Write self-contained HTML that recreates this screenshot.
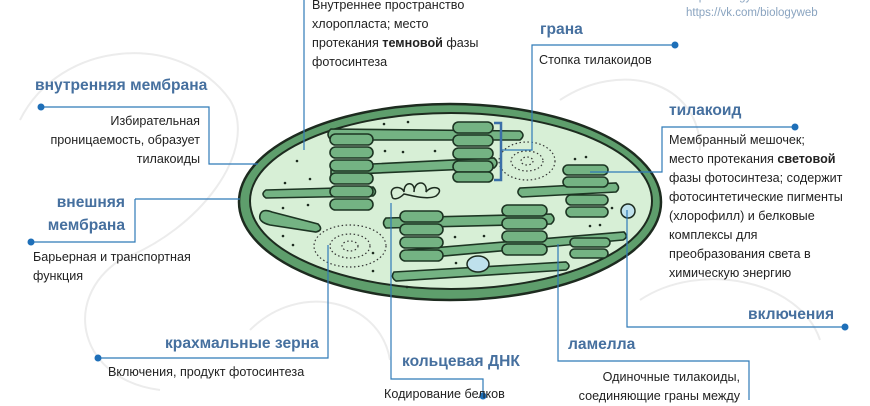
<!DOCTYPE html>
<html><head><meta charset="utf-8"><style>
body{margin:0;width:870px;height:400px;overflow:hidden;background:#fff;font-family:"Liberation Sans","DejaVu Sans",sans-serif}
svg{position:absolute;left:0;top:0}
.t{position:absolute;font-size:12.6px;color:#222;line-height:19px;white-space:nowrap}
.h{position:absolute;font-size:15.6px;font-weight:bold;color:#46709f;white-space:nowrap}
.r{text-align:right}
</style></head><body>
<svg width="870" height="400" viewBox="0 0 870 400">
<g fill="none" stroke="#ececec" stroke-width="2">
<path d="M20 120 C60 40 180 30 230 100 C260 150 200 230 120 260"/>
<path d="M120 260 C60 300 80 380 160 390"/>
<path d="M250 330 C300 280 380 300 390 360"/>
<path d="M560 100 C620 60 700 80 700 150"/>
<path d="M640 300 C700 260 800 280 820 340"/>
</g>
<ellipse cx="450" cy="202" rx="211" ry="98" fill="#5e9e6c" stroke="#1d2b1f" stroke-width="2.5"/>
<ellipse cx="451" cy="201" rx="201" ry="88" fill="#d7efd6" stroke="#1d2b1f" stroke-width="2"/>
<g fill="#74b383" stroke="#1d3523" stroke-width="1.6">
<path d="M331 129 L520 131 Q526 135 520 140 L331 140 Q325 134 331 129Z"/>
<path d="M331 166 L494 158 Q500 163 494 168 L331 175Z"/>
<path d="M266 190 L373 187 Q378 192 373 196 L266 198 Q260 194 266 190Z"/>
<path d="M260 215 Q262 208 272 212 L318 224 Q324 230 316 232 L270 225 Q258 222 260 215Z"/>
<path d="M386 218 L551 214 Q557 219 551 224 L386 228 Q381 223 386 218Z"/>
<path d="M408 250 L624 232 Q629 237 623 240 L410 259 Q403 254 408 250Z"/>
<path d="M520 188 L616 183 Q621 188 616 192 L522 197 Q515 193 520 188Z"/>
<path d="M394 272 L566 262 Q572 266 566 270 L396 281 Q390 277 394 272Z"/>
<rect x="330" y="134" width="43" height="11" rx="5.5"/>
<rect x="330" y="147" width="43" height="11" rx="5.5"/>
<rect x="330" y="160" width="43" height="11" rx="5.5"/>
<rect x="330" y="173" width="43" height="11" rx="5.5"/>
<rect x="330" y="186" width="43" height="11" rx="5.5"/>
<rect x="330" y="199" width="43" height="11" rx="5.5"/>
<rect x="453" y="122" width="40" height="11" rx="5.5"/>
<rect x="453" y="135" width="40" height="11" rx="5.5"/>
<rect x="453" y="148" width="40" height="11" rx="5.5"/>
<rect x="453" y="161" width="40" height="11" rx="5.5"/>
<rect x="453" y="172" width="40" height="10" rx="5"/>
<rect x="400" y="211" width="43" height="11" rx="5.5"/>
<rect x="400" y="224" width="43" height="11" rx="5.5"/>
<rect x="400" y="237" width="43" height="11" rx="5.5"/>
<rect x="400" y="250" width="43" height="11" rx="5.5"/>
<rect x="502" y="205" width="45" height="11" rx="5.5"/>
<rect x="502" y="218" width="45" height="11" rx="5.5"/>
<rect x="502" y="231" width="45" height="11" rx="5.5"/>
<rect x="502" y="244" width="45" height="11" rx="5.5"/>
<rect x="563" y="165" width="45" height="10" rx="5"/>
<rect x="563" y="177" width="45" height="10" rx="5"/>
<rect x="566" y="195" width="42" height="10" rx="5"/>
<rect x="566" y="207" width="42" height="10" rx="5"/>
<rect x="570" y="238" width="40" height="9" rx="4.5"/>
<rect x="570" y="249" width="38" height="9" rx="4.5"/>
</g>
<g fill="none" stroke="#1d2b1f" stroke-width="1.5">
<path d="M392 196 C388 186 402 185 404 192 C404 180 416 182 414 192 C414 180 428 180 426 192 C432 184 446 188 436 196 C428 200 414 196 404 194 C398 200 392 200 392 196Z"/>
</g>
<g fill="none" stroke="#333" stroke-width="1.2" stroke-dasharray="1.5 2.5">
<ellipse cx="350" cy="246" rx="36" ry="21"/><ellipse cx="350" cy="246" rx="20" ry="12"/><ellipse cx="350" cy="246" rx="8" ry="5"/>
<ellipse cx="527" cy="161" rx="28" ry="19"/><ellipse cx="527" cy="161" rx="16" ry="10"/><ellipse cx="527" cy="161" rx="6" ry="4"/>
</g>
<circle cx="628" cy="211" r="7" fill="#bfe1ec" stroke="#1d2b1f" stroke-width="1.5"/>
<ellipse cx="478" cy="264" rx="11" ry="8" fill="#bfe1ec" stroke="#1d2b1f" stroke-width="1.5"/>
<g fill="#1d2b1f">
<circle cx="384" cy="124" r="1.3"/><circle cx="408" cy="122" r="1.3"/><circle cx="297" cy="161" r="1.3"/><circle cx="285" cy="183" r="1.3"/><circle cx="310" cy="179" r="1.3"/><circle cx="283" cy="208" r="1.3"/><circle cx="308" cy="205" r="1.3"/><circle cx="283" cy="236" r="1.3"/><circle cx="293" cy="245" r="1.3"/><circle cx="385" cy="151" r="1.3"/><circle cx="403" cy="152" r="1.3"/><circle cx="435" cy="151" r="1.3"/><circle cx="586" cy="157" r="1.3"/><circle cx="575" cy="159" r="1.3"/><circle cx="612" cy="208" r="1.3"/><circle cx="455" cy="237" r="1.3"/><circle cx="484" cy="236" r="1.3"/><circle cx="456" cy="263" r="1.3"/><circle cx="373" cy="253" r="1.3"/><circle cx="407" cy="287" r="1.3"/><circle cx="373" cy="271" r="1.3"/><circle cx="590" cy="226" r="1.3"/><circle cx="600" cy="225" r="1.3"/>
</g>
<g fill="none" stroke="#2f7ab8" stroke-width="1.2">
<path d="M304 0 V150"/>
<path d="M41 107 H209 V164 H258"/>
<path d="M135 199 H240 M135 199 V242 H31"/>
<path d="M98 358 H328 V245"/>
<path d="M391 203 V379 H483 V396"/>
<path d="M558 244 V361 H749 V400"/>
<path d="M627 210 V327 H845"/>
<path d="M675 45 H532 V150 H502"/>
<path d="M795 127 H662 V172 H590"/>
</g>
<path d="M494 123 H501 V180 H494" fill="none" stroke="#3a6fa8" stroke-width="2.5"/>
<g fill="#1e6fb8">
<circle cx="41" cy="107" r="3.5"/><circle cx="31" cy="242" r="3.5"/><circle cx="98" cy="358" r="3.5"/><circle cx="483" cy="396" r="3.5"/><circle cx="845" cy="327" r="3.5"/><circle cx="675" cy="45" r="3.5"/><circle cx="795" cy="127" r="3.5"/>
</g>
</svg>
<div class="t" style="left:686px;top:-11px;color:#8aa4c0;font-size:11.5px;line-height:16px">http://biologyonline.ru<br>https://vk.com/biologyweb</div>
<div class="t" style="left:312px;top:-4px">Внутреннее пространство<br>хлоропласта; место<br>протекания <b>темновой</b> фазы<br>фотосинтеза</div>
<div class="h" style="left:35px;top:77px">внутренняя мембрана</div>
<div class="t r" style="right:670px;top:112px">Избирательная<br>проницаемость, образует<br>тилакоиды</div>
<div class="h r" style="right:745px;top:191px;line-height:23px">внешняя<br>мембрана</div>
<div class="t" style="left:33px;top:248px">Барьерная и транспортная<br>функция</div>
<div class="h" style="left:165px;top:335px">крахмальные зерна</div>
<div class="t" style="left:108px;top:363px">Включения, продукт фотосинтеза</div>
<div class="h" style="left:402px;top:353px">кольцевая ДНК</div>
<div class="t" style="left:384px;top:385px">Кодирование белков</div>
<div class="h" style="left:568px;top:336px">ламелла</div>
<div class="t r" style="right:130px;top:368px">Одиночные тилакоиды,<br>соединяющие граны между</div>
<div class="h" style="left:748px;top:306px">включения</div>
<div class="h" style="left:540px;top:21px">грана</div>
<div class="t" style="left:539px;top:51px">Стопка тилакоидов</div>
<div class="h" style="left:669px;top:102px">тилакоид</div>
<div class="t" style="left:669px;top:131px">Мембранный мешочек;<br>место протекания <b>световой</b><br>фазы фотосинтеза; содержит<br>фотосинтетические пигменты<br>(хлорофилл) и белковые<br>комплексы для<br>преобразования света в<br>химическую энергию</div>
</body></html>
